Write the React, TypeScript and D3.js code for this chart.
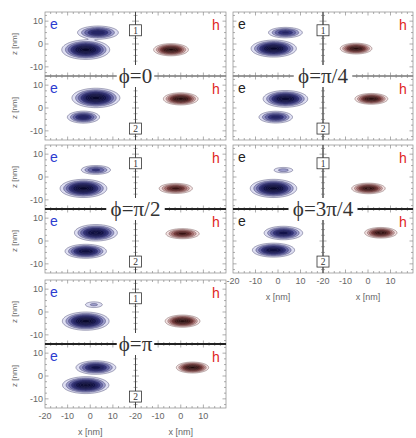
import React from "react";
import * as d3 from "d3";

// ---- data (nm) : [x, z, sigmaX, sigmaZ, amplitude], panels ordered ϕ=0, π/4, π/2, 3π/4, π
const phaseLabels = ["ϕ=0", "ϕ=π/4", "ϕ=π/2", "ϕ=3π/4", "ϕ=π"];
const state1ElecMain = [
  [-2, -2.5, 4.0, 1.6, 1.0],
  [-1.9, -2, 3.8, 1.4, 1.0],
  [-3, -5, 3.9, 1.5, 1.0],
  [-2, -5, 3.9, 1.5, 1.0],
  [-2, -4, 3.9, 1.5, 1.0],
];
const state1ElecSide = [
  [3.4, 5, 3.8, 1.2, 0.5],
  [3.3, 5, 3.3, 1.0, 0.4],
  [2.5, 3.1, 3.0, 0.9, 0.3],
  [2.4, 3, 2.5, 0.7, 0.12],
  [1.6, 3.2, 2.4, 0.8, 0.1],
];
const state1Hole = [
  [-4.3, -2.5, 2.9, 1.0, 1.0],
  [-5.3, -2, 2.7, 0.9, 0.9],
  [-2.2, -5, 3.0, 0.9, 0.6],
  [0.2, -5, 2.9, 0.9, 0.8],
  [0.8, -4, 2.9, 1.0, 1.0],
];
const state2ElecUpper = [
  [2.5, 4.4, 4.0, 1.6, 1.0],
  [3.3, 4, 3.8, 1.4, 0.9],
  [2.5, 3.6, 3.7, 1.4, 0.8],
  [2.4, 3.5, 3.5, 1.2, 0.6],
  [2.5, 3.7, 3.6, 1.2, 0.6],
];
const state2ElecLower = [
  [-3, -4, 3.0, 1.1, 0.5],
  [-1, -4, 3.2, 1.1, 0.45],
  [-2, -4.5, 3.6, 1.2, 0.75],
  [-2, -4, 3.7, 1.2, 0.75],
  [-2, -4, 3.9, 1.4, 0.95],
];
const state2Hole = [
  [0, 4, 2.9, 1.0, 1.0],
  [1.5, 4, 2.8, 0.9, 0.9],
  [0.8, 3.2, 3.0, 0.9, 0.6],
  [5.7, 3.6, 2.8, 0.9, 0.8],
  [5.2, 3.7, 2.7, 0.9, 1.0],
];
const xTicks = [-20, -10, 0, 10];
const zTicks = [10, 0, -10];
const xDomain = [-20, 20];
const zDomain = [-14, 14];

// ---- layout
const W = 416;
const H = 438;
const colX = [
  [45, 226],
  [233, 413],
];
const rowTop = [12, 145, 280];
const PH = 128;
const dividerWidths = [1, 1, 1.8, 1.8, 1.8];

const DX = 0.25;
const NX = Math.round((xDomain[1] - xDomain[0]) / DX) + 1;
const NZ = Math.round((zDomain[1] - zDomain[0]) / DX) + 1;
const thresholds = [0.03, 0.08, 0.15, 0.25, 0.36, 0.5, 0.64, 0.78, 0.9];

const elecColor = d3
  .scaleLinear<string>()
  .domain([0.03, 0.1, 0.25, 0.5, 0.9])
  .range(["#dedef2", "#8282bc", "#34347c", "#12124a", "#08082c"]);
const holeColor = d3
  .scaleLinear<string>()
  .domain([0.03, 0.1, 0.25, 0.5, 0.9])
  .range(["#f4e2e2", "#c08c8c", "#7a3a3a", "#3a1212", "#1c0606"]);

function Contours({ x0, x1, y0, y1, blobs, kind, id }) {
  const xs = d3.scaleLinear().domain(xDomain).range([x0, x1]);
  const zs = d3.scaleLinear().domain(zDomain).range([y1, y0]);
  const values = new Array(NX * NZ);
  for (let j = 0; j < NZ; j++) {
    const z = zDomain[1] - j * DX;
    for (let i = 0; i < NX; i++) {
      const x = xDomain[0] + i * DX;
      let v = 0;
      for (const b of blobs) {
        const ddx = (x - b[0]) / b[2];
        const ddz = (z - b[1]) / b[3];
        v += b[4] * Math.exp(-0.5 * (ddx * ddx + ddz * ddz));
      }
      values[j * NX + i] = v;
    }
  }
  const cs = d3.contours().size([NX, NZ]).thresholds(thresholds)(values);
  const proj = d3.geoTransform({
    point: function (x, y) {
      this.stream.point(
        xs(xDomain[0] + (x - 0.5) * DX),
        zs(zDomain[1] - (y - 0.5) * DX)
      );
    },
  });
  const path = d3.geoPath(proj);
  const col = kind === "e" ? elecColor : holeColor;
  const stroke = kind === "e" ? "#3a3a66" : "#6a4a4a";
  return (
    <g clipPath={`url(#${id})`}>
      {cs.map((c, k) => (
        <path
          key={k}
          d={path(c) || ""}
          fill={col(c.value)}
          stroke={stroke}
          strokeWidth={0.5}
          strokeOpacity={0.9}
        />
      ))}
    </g>
  );
}

function Frame({ x0, x1, y0, y1 }) {
  const xs = d3.scaleLinear().domain(xDomain).range([x0, x1]);
  const zs = d3.scaleLinear().domain(zDomain).range([y1, y0]);
  const xMinor = d3.range(-17.5, 20, 2.5);
  const zMinor = d3.range(-12.5, 14, 2.5);
  const ticks = [];
  xMinor.forEach((v, k) => {
    const L = v % 10 === 0 ? 3.5 : 2;
    const x = xs(v);
    ticks.push(<line key={"xt" + k} x1={x} x2={x} y1={y0} y2={y0 + L} />);
    ticks.push(<line key={"xb" + k} x1={x} x2={x} y1={y1} y2={y1 - L} />);
  });
  zMinor.forEach((v, k) => {
    const L = v % 10 === 0 ? 3.5 : 2;
    const y = zs(v);
    ticks.push(<line key={"zl" + k} x1={x0} x2={x0 + L} y1={y} y2={y} />);
    ticks.push(<line key={"zr" + k} x1={x1} x2={x1 - L} y1={y} y2={y} />);
  });
  return (
    <g stroke="#8a8a8a" strokeWidth={0.7} fill="none">
      <rect x={x0} y={y0} width={x1 - x0} height={y1 - y0} />
      {ticks}
    </g>
  );
}

function Panel({ idx }) {
  const col = idx % 2;
  const row = Math.floor(idx / 2);
  const [x0, x1] = colX[col];
  const top = rowTop[row];
  const bot = top + PH;
  const mid = top + PH / 2;
  const xm = (x0 + x1) / 2;
  const subs = [
    { sx0: x0, sx1: xm, sy0: top, sy1: mid, blobs: [state1ElecMain[idx], state1ElecSide[idx]], kind: "e" },
    { sx0: xm, sx1: x1, sy0: top, sy1: mid, blobs: [state1Hole[idx]], kind: "h" },
    { sx0: x0, sx1: xm, sy0: mid, sy1: bot, blobs: [state2ElecUpper[idx], state2ElecLower[idx]], kind: "e" },
    { sx0: xm, sx1: x1, sy0: mid, sy1: bot, blobs: [state2Hole[idx]], kind: "h" },
  ];
  const zsTop = d3.scaleLinear().domain(zDomain).range([mid, top]);
  const zsBot = d3.scaleLinear().domain(zDomain).range([bot, mid]);
  const label = phaseLabels[idx];
  const lw = label.length * 10.5 + 6;
  const eColor = col === 0 ? "#2c3cd0" : "#222";
  const isBottom = idx === 3 || idx === 4;
  return (
    <g>
      <defs>
        {subs.map((s, k) => (
          <clipPath key={k} id={`clip-${idx}-${k}`}>
            <rect x={s.sx0} y={s.sy0} width={s.sx1 - s.sx0} height={s.sy1 - s.sy0} />
          </clipPath>
        ))}
      </defs>
      {subs.map((s, k) => (
        <Contours
          key={"c" + k}
          x0={s.sx0}
          x1={s.sx1}
          y0={s.sy0}
          y1={s.sy1}
          blobs={s.blobs}
          kind={s.kind}
          id={`clip-${idx}-${k}`}
        />
      ))}
      {subs.map((s, k) => (
        <Frame key={"f" + k} x0={s.sx0} x1={s.sx1} y0={s.sy0} y1={s.sy1} />
      ))}
      {/* dividers */}
      <line x1={xm} x2={xm} y1={top} y2={bot} stroke="#444" strokeWidth={1} />
      <line x1={x0} x2={x1} y1={mid} y2={mid} stroke={dividerWidths[idx] > 1 ? "#222" : "#777"} strokeWidth={dividerWidths[idx]} />
      {/* state boxes */}
      {[
        { t: "1", y: zsTop(6) },
        { t: "2", y: zsBot(-9) },
      ].map((b) => (
        <g key={b.t}>
          <rect x={xm - 6} y={b.y - 5.5} width={12} height={11} fill="#fff" stroke="#333" strokeWidth={0.8} />
          <text x={xm} y={b.y + 3.5} textAnchor="middle" fontSize={9.5} fontFamily="Liberation Serif, serif" fill="#333">
            {b.t}
          </text>
        </g>
      ))}
      {/* phase label */}
      <rect x={xm - lw / 2} y={mid - 11} width={lw} height={22} fill="#fff" />
      <text x={xm} y={mid + 7} textAnchor="middle" fontSize={21} fontFamily="Liberation Serif, DejaVu Serif, serif" fill="#333">
        {label}
      </text>
      {/* e / h labels */}
      {[top, mid].map((yy, k) => (
        <g key={"lab" + k} fontFamily="Liberation Sans, Arial, sans-serif" fontSize={14}>
          <text x={x0 + 5} y={yy + 17} fill={eColor}>e</text>
          <text x={x1 - 10} y={yy + 18} textAnchor="middle" fill="#e02424">h</text>
        </g>
      ))}
      {/* y axis labels, left column only */}
      {col === 0 &&
        [
          { zs: zsTop, c: (top + mid) / 2 },
          { zs: zsBot, c: (mid + bot) / 2 },
        ].map((a, k) => (
          <g key={"ya" + k} fontFamily="Liberation Sans, Arial, sans-serif" fill="#666">
            {zTicks.map((t) => (
              <text key={t} x={x0 - 2} y={a.zs(t) + 3} textAnchor="end" fontSize={9}>
                {t}
              </text>
            ))}
            <text transform={`translate(17,${a.c}) rotate(-90)`} textAnchor="middle" fontSize={8}>
              z [nm]
            </text>
          </g>
        ))}
      {/* x axis labels on lowest panel of column */}
      {isBottom &&
        [
          [x0, xm],
          [xm, x1],
        ].map(([a, b], k) => {
          const xs = d3.scaleLinear().domain(xDomain).range([a, b]);
          return (
            <g key={"xa" + k} fontFamily="Liberation Sans, Arial, sans-serif" fill="#666">
              {xTicks.map((t) => (
                <text key={t} x={xs(t)} y={bot + 11} textAnchor="middle" fontSize={9}>
                  {t}
                </text>
              ))}
              <text x={(a + b) / 2} y={bot + 27} textAnchor="middle" fontSize={9}>
                x [nm]
              </text>
            </g>
          );
        })}
    </g>
  );
}

export default function App() {
  return (
    <svg width={W} height={H} style={{ position: "absolute", left: 0, top: 0, background: "#fff" }}>
      <rect width={W} height={H} fill="#fff" />
      {phaseLabels.map((_, i) => (
        <Panel key={i} idx={i} />
      ))}
    </svg>
  );
}
